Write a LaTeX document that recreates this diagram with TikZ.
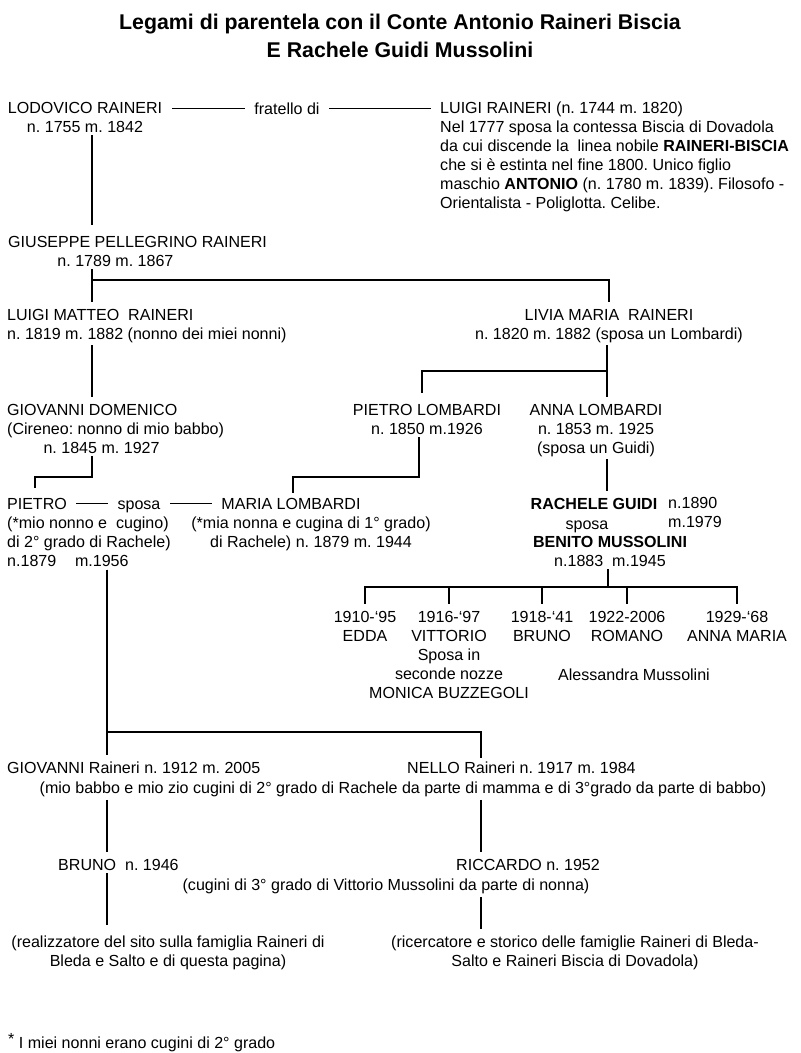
\documentclass[tikz,border=0pt]{standalone}
\usepackage{fontspec}
\setmainfont{Liberation Sans}
\frenchspacing
\newcommand\bodyfont{\fontsize{13.7}{16.2}\selectfont}
\newcommand\titlefont{\fontsize{18.2}{23.8}\selectfont\bfseries}

\begin{document}
\begin{tikzpicture}[x=0.03cm, y=-0.03cm,
    txt/.style={font=\bodyfont, inner sep=0pt},
    lft/.style={txt, align=left, anchor=north west},
    ctr/.style={txt, align=center, anchor=north},
    one/.style={txt, anchor=base},
    link/.style={line width=1.5pt, shorten <=2pt, shorten >=6pt},
    chain/.style={line width=1.2pt, shorten <=8pt, shorten >=8pt}]
  \fill[white] (0,0) rectangle (800,1053);
  \useasboundingbox (0,0) rectangle (800,1053);

  \node (titolo) [anchor=north, align=center, inner sep=0pt, font=\titlefont] at (400,14)
    {Legami di parentela con il Conte Antonio Raineri Biscia\\E Rachele Guidi Mussolini};

  % Lodovico e Luigi
  \node (lodovico) [ctr] at (85,102) {LODOVICO RAINERI\\n. 1755 m. 1842};
  \node (fratello) [one] at (287,114) {fratello di};
  \node (luigi) [lft] at (440,102) {LUIGI RAINERI (n. 1744 m. 1820)\\
    Nel 1777 sposa la contessa Biscia di Dovadola\\
    da cui discende la\ \ linea nobile \textbf{RAINERI-BISCIA}\\
    che si è estinta nel fine 1800. Unico figlio\\
    maschio \textbf{ANTONIO} (n. 1780 m. 1839). Filosofo -\\
    Orientalista - Poliglotta. Celibe.};
  \draw[chain] (fratello.west) -- (fratello.west -| lodovico.east);
  \draw[chain] (fratello.east) -- (fratello.east -| luigi.west);

  \node (giuseppe) [lft] at (8,236) {GIUSEPPE PELLEGRINO RAINERI\\\hspace*{42pt}n. 1789 m. 1867};
  \coordinate (gbar) at (92,280);
  \draw[link, shorten >=9pt] (lodovico.south -| gbar) -- (giuseppe.north -| gbar);

  % figli di Giuseppe
  \node (luigim) [lft] at (7,309) {LUIGI MATTEO\ \ RAINERI\\n. 1819 m. 1882 (nonno dei miei nonni)};
  \node (livia) [ctr] at (609,309) {LIVIA MARIA\ \ RAINERI\\n. 1820 m. 1882 (sposa un Lombardi)};
  \draw[link] (giuseppe.south -| gbar) -- (luigim.north -| gbar);
  \draw[link] (giuseppe.south -| gbar) -- (gbar) -| (livia.north);

  \node (giovd) [lft] at (7,404) {GIOVANNI DOMENICO\\(Cireneo: nonno di mio babbo)\\\hspace*{31pt}n. 1845 m. 1927};
  \node (pietrol) [ctr] at (427,404) {PIETRO LOMBARDI\\n. 1850 m.1926};
  \node (annal) [ctr] at (596,404) {ANNA LOMBARDI\\n. 1853 m. 1925\\(sposa un Guidi)};
  \coordinate (lbar) at (607,371);
  \coordinate (lbarl) at (422,371);
  \draw[link] (luigim.south -| gbar) -- (giovd.north -| gbar);
  \draw[link] (livia.south -| lbar) -- (annal.north -| lbar);
  \draw[link, shorten >=9pt] (livia.south -| lbar) -- (lbar) -- (lbarl) -- (pietrol.north -| lbarl);

  % Pietro sposa Maria
  \node (pietro) [one] at (37,509) {PIETRO};
  \node (sposa) [one] at (139,509) {sposa};
  \node (maria) [one] at (291,509) {MARIA LOMBARDI};
  \draw[chain] (pietro.east) -- (pietro.east -| sposa.west);
  \draw[chain] (maria.west -| sposa.east) -- (maria.west);
  \node (pietrod) [lft] at (7,517) {(*mio nonno e\ \ cugino)\\di 2° grado di Rachele)\\n.1879\hspace*{16pt}m.1956};
  \node (mariad) [ctr] at (311,517) {(*mia nonna e cugina di 1° grado)\\di Rachele) n. 1879 m. 1944};
  \coordinate (pbar) at (35,477);
  \coordinate (mbar) at (293,477);
  \coordinate (mbarr) at (419,477);
  \draw[link, shorten >=8pt] (giovd.south -| gbar) |- (pbar) -- (pietro.north -| pbar);
  \draw[link, shorten >=4pt] (pietrol.south -| mbarr) -- (mbarr) -- (mbar) -- (maria.north -| mbar);

  % Rachele e Benito
  \node (rachele) [one, font=\bodyfont\bfseries] at (594,509) {RACHELE GUIDI};
  \node (rdate) [lft] at (668,497) {n.1890\\m.1979};
  \node (rsposa) [one] at (587,529) {sposa};
  \node (benito) [ctr] at (610,536) {\textbf{BENITO MUSSOLINI}\\n.1883\ \ m.1945};
  \draw[link] (annal.south -| lbar) -- (rachele.north -| lbar);

  % figli di Rachele
  \node (edda) [ctr] at (365,611) {1910-‘95\\EDDA};
  \node (vittorio) [ctr] at (449,611) {1916-‘97\\VITTORIO\\Sposa in\\seconde nozze\\MONICA BUZZEGOLI};
  \node (brunom) [ctr] at (542,611) {1918-‘41\\BRUNO};
  \node (romano) [ctr] at (627,611) {1922-2006\\ROMANO};
  \node (annam) [ctr] at (737,611) {1929-‘68\\ANNA MARIA};
  \node (alessandra) [one] at (634,680) {Alessandra Mussolini};
  \coordinate (kbar) at (608,587);
  \draw[link, shorten >=0pt] (benito.south -| kbar) -- (kbar);
  \foreach \figlio in {edda,vittorio,brunom,romano,annam}
    \draw[link, shorten <=0pt] (kbar) -| (\figlio.north);

  % Giovanni e Nello
  \node (giovanni) [lft] at (7,762) {GIOVANNI Raineri n. 1912 m. 2005};
  \node (nello) [lft] at (407,762) {NELLO Raineri n. 1917 m. 1984};
  \node (babbi) [ctr] at (403,782) {(mio babbo e mio zio cugini di 2° grado di Rachele da parte di mamma e di 3°grado da parte di babbo)};
  \coordinate (rbar) at (107,732);
  \coordinate (nbar) at (481,732);
  \draw[link] (pietrod.south -| rbar) -- (giovanni.north -| rbar);
  \draw[link, shorten >=3pt] (pietrod.south -| rbar) -- (rbar) -- (nbar) -- (nello.north -| nbar);

  % Bruno e Riccardo
  \node (brunor) [lft] at (58,859) {BRUNO\ \ n. 1946};
  \node (riccardo) [lft] at (456,859) {RICCARDO n. 1952};
  \node (cugini) [ctr] at (386,879) {(cugini di 3° grado di Vittorio Mussolini da parte di nonna)};
  \draw[link] (babbi.south -| rbar) -- (brunor.north -| rbar);
  \draw[link] (babbi.south -| nbar) -- (riccardo.north -| nbar);

  \node (realizz) [ctr] at (168,936) {(realizzatore del sito sulla famiglia Raineri di\\Bleda e Salto e di questa pagina)};
  \node (ricerc) [ctr] at (575,936) {(ricercatore e storico delle famiglie Raineri di Bleda-\\Salto e Raineri Biscia di Dovadola)};
  \draw[link, shorten >=9pt] (brunor.south -| rbar) -- (realizz.north -| rbar);
  \draw[link] (cugini.south -| nbar) -- (ricerc.north -| nbar);

  \node (nota) [lft] at (8,1033) {\raisebox{4pt}{*} I miei nonni erano cugini di 2° grado};
\end{tikzpicture}
\end{document}
